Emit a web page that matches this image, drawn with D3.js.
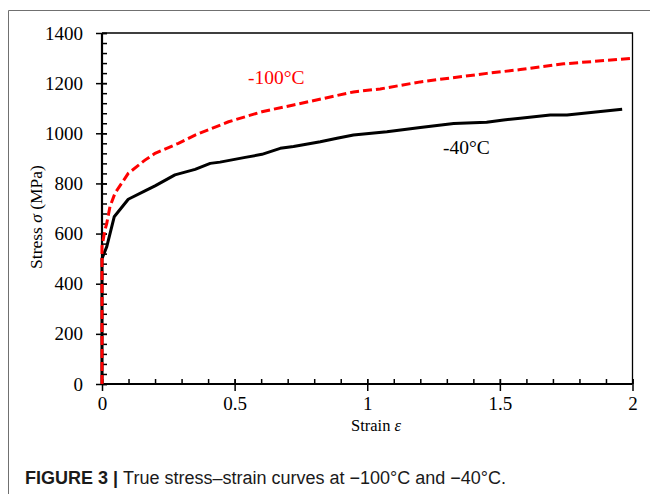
<!DOCTYPE html>
<html>
<head>
<meta charset="utf-8">
<script src="https://cdn.jsdelivr.net/npm/d3@7"></script>
<style>
  html, body { margin: 0; padding: 0; background: #fff; }
  svg { display: block; }
</style>
</head>
<body>
<svg id="chart" width="650" height="494"></svg>
<script>
// ---- data ----
const strainM40 = [0, 0.0, 0.001, 0.018, 0.046, 0.099, 0.162, 0.2, 0.275, 0.351, 0.408, 0.445, 0.54, 0.603, 0.672, 0.722, 0.823, 0.886, 0.948, 1.074, 1.2, 1.326, 1.4, 1.45, 1.514, 1.577, 1.69, 1.753, 1.961];
const stressM40 = [0, 500, 503, 548, 667, 737, 770, 790, 834, 856, 880, 885, 904, 916, 940, 947, 966, 980, 993, 1006, 1023, 1039, 1042, 1044, 1053, 1060, 1073, 1073, 1096];

const strainM100 = [0, 0.0, 0.011, 0.018, 0.03, 0.049, 0.099, 0.162, 0.2, 0.288, 0.351, 0.477, 0.603, 0.722, 0.948, 1.049, 1.2, 1.451, 1.577, 1.74, 2.0];
const stressM100 = [0, 548, 614, 641, 707, 761, 840, 893, 920, 960, 993, 1046, 1086, 1113, 1165, 1177, 1205, 1239, 1254, 1277, 1299];

const xMajorTicks = [0, 0.5, 1, 1.5, 2];
const xTickLabels = ["0", "0.5", "1", "1.5", "2"];
const yMajorTicks = [0, 200, 400, 600, 800, 1000, 1200, 1400];
const yTickLabels = ["0", "200", "400", "600", "800", "1000", "1200", "1400"];

const seriesLabels = ["-100°C", "-40°C"];
const xTitle = "Strain ";
const xTitleSym = "ε";
const yTitle = "Stress ";
const yTitleSym = "σ";
const yTitleUnit = " (MPa)";
const captionBold = "FIGURE 3 | ";
const captionText = "True stress–strain curves at −100°C and −40°C.";

// ---- layout ----
const svg = d3.select("#chart");
const L = 102, R = 632.5, T = 33, B = 384;
const x = d3.scaleLinear().domain([0, 2]).range([L, R]);
const y = d3.scaleLinear().domain([0, 1400]).range([B, T]);
const serif = "'Liberation Serif', 'Times New Roman', serif";
const sans = "'Liberation Sans', Arial, Helvetica, sans-serif";

svg.append("rect").attr("width", 650).attr("height", 494).attr("fill", "#fff");

// frame lines (top & left)
svg.append("path").attr("d", "M8.5,494V10.5H650")
  .attr("fill", "none").attr("stroke", "#707070").attr("stroke-width", 1);

// plot border top and right
svg.append("path").attr("d", `M${L},${T}H${R}V${B}`)
  .attr("fill", "none").attr("stroke", "#000").attr("stroke-width", 1.3);

// minor ticks
const xMinor = d3.range(0, 2.0001, 0.1).map(v => +v.toFixed(2));
const yMinor = d3.range(0, 1400.001, 40);

svg.append("g").attr("transform", `translate(0,${B})`)
  .call(d3.axisBottom(x).tickValues(xMinor).tickSize(-5).tickFormat(""))
  .call(g => g.select(".domain").remove())
  .call(g => g.selectAll("line").attr("stroke", "#000").attr("stroke-width", 1.5));

svg.append("g").attr("transform", `translate(${L},0)`)
  .call(d3.axisLeft(y).tickValues(yMinor).tickSize(-5).tickFormat(""))
  .call(g => g.select(".domain").remove())
  .call(g => g.selectAll("line").attr("stroke", "#000").attr("stroke-width", 1.5));

// major x axis
svg.append("g").attr("transform", `translate(0,${B})`)
  .call(d3.axisBottom(x).tickValues(xMajorTicks).tickSize(7).tickPadding(6)
    .tickFormat((d, i) => xTickLabels[i]))
  .call(g => g.select(".domain").attr("d", `M${L},0H${R}`).attr("stroke", "#000").attr("stroke-width", 2.2))
  .call(g => g.selectAll(".tick line").attr("y1", -5).attr("stroke", "#000").attr("stroke-width", 1.5))
  .call(g => g.selectAll(".tick text").attr("font-family", serif).attr("font-size", 19).attr("fill", "#000"));

// major y axis
svg.append("g").attr("transform", `translate(${L},0)`)
  .call(d3.axisLeft(y).tickValues(yMajorTicks).tickSize(6).tickPadding(13)
    .tickFormat((d, i) => yTickLabels[i]))
  .call(g => g.select(".domain").attr("d", `M0,${B}V${T}`).attr("stroke", "#000").attr("stroke-width", 2.2))
  .call(g => g.selectAll(".tick line").attr("x1", 5).attr("stroke", "#000").attr("stroke-width", 1.5))
  .call(g => g.selectAll(".tick text").attr("font-family", serif).attr("font-size", 19).attr("fill", "#000"));

// lines
const line = d3.line().x(d => x(d[0])).y(d => y(d[1]));
const dM40 = strainM40.map((s, i) => [s, stressM40[i]]);
const dM100 = strainM100.map((s, i) => [s, stressM100[i]]);

svg.append("path").datum(dM40).attr("d", line)
  .attr("fill", "none").attr("stroke", "#000").attr("stroke-width", 3)
  .attr("stroke-linejoin", "round");
svg.append("path").datum(dM100).attr("d", line)
  .attr("fill", "none").attr("stroke", "#ff0000").attr("stroke-width", 3)
  .attr("stroke-dasharray", "9,4");

// series labels
svg.append("text").attr("x", 248).attr("y", 83.5)
  .attr("font-family", serif).attr("font-size", 19.5).attr("fill", "#ff0000")
  .text(seriesLabels[0]);
svg.append("text").attr("x", 443).attr("y", 154)
  .attr("font-family", serif).attr("font-size", 19.5).attr("fill", "#000")
  .text(seriesLabels[1]);

// axis titles
const xt = svg.append("text").attr("x", 376).attr("y", 430.5).attr("text-anchor", "middle")
  .attr("font-family", serif).attr("font-size", 16.5).attr("fill", "#000");
xt.append("tspan").text(xTitle);
xt.append("tspan").attr("font-style", "italic").text(xTitleSym);

const yt = svg.append("text").attr("transform", "translate(42,217) rotate(-90)")
  .attr("text-anchor", "middle")
  .attr("font-family", serif).attr("font-size", 17.5).attr("fill", "#000");
yt.append("tspan").text(yTitle);
yt.append("tspan").attr("font-style", "italic").text(yTitleSym);
yt.append("tspan").text(yTitleUnit);

// caption
const cap = svg.append("text").attr("x", 25).attr("y", 484)
  .attr("font-family", sans).attr("font-size", 18).attr("fill", "#1a1a1a");
cap.append("tspan").attr("font-weight", "bold").text(captionBold);
cap.append("tspan").text(captionText);
</script>
</body>
</html>
